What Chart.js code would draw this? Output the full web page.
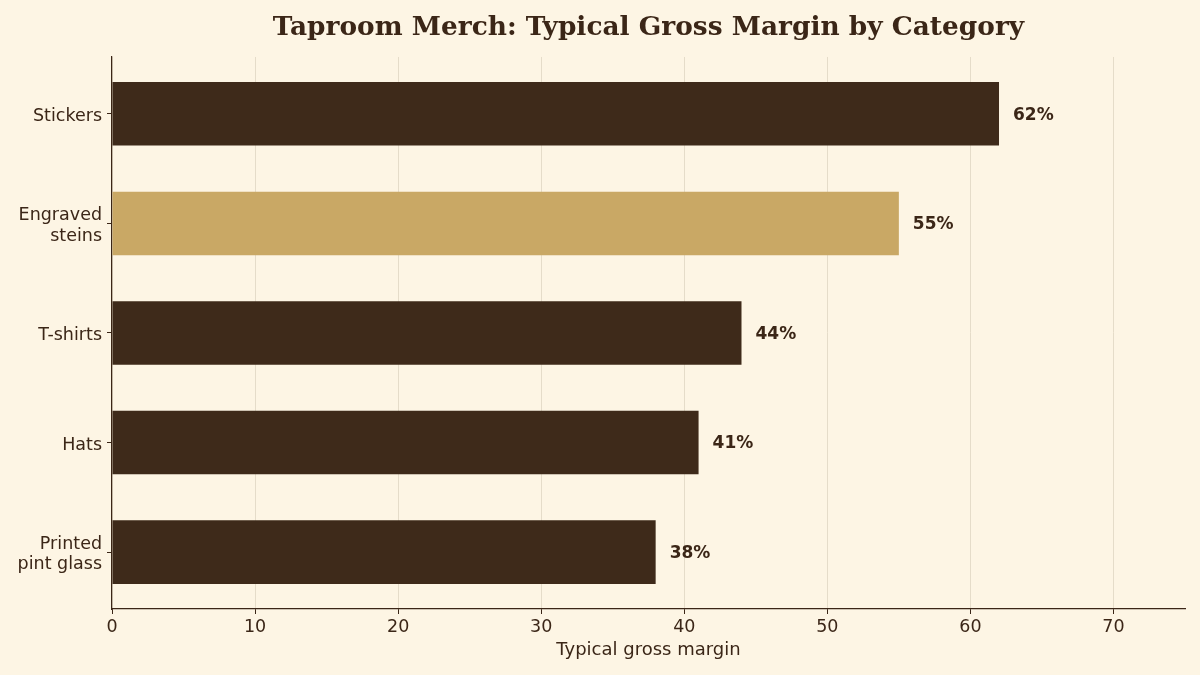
<!DOCTYPE html>
<html>
<head>
<meta charset="utf-8">
<script src="https://cdn.jsdelivr.net/npm/chart.js@4/dist/chart.umd.min.js"></script>
<style>
  html, body { margin: 0; padding: 0; background: #fdf5e4; }
  #wrap { width: 1200px; height: 675px; }
</style>
</head>
<body>
<div id="wrap"><canvas id="c" width="1200" height="675"></canvas></div>
<script>
const categories = [["Stickers"], ["Engraved", "steins"], ["T-shirts"], ["Hats"], ["Printed", "pint glass"]];
const margins = [62, 55, 44, 41, 38];
const highlightIndex = 1;
const xTicks = [0, 10, 20, 30, 40, 50, 60, 70];

const DARK = '#3e2a1a';
const GOLD = '#c9a865';
const TEXT = '#3b2617';
const GRID = '#e5dcc9';

const valueLabels = {
  id: 'valueLabels',
  afterDatasetsDraw(chart) {
    const ctx = chart.ctx;
    const meta = chart.getDatasetMeta(0);
    ctx.save();
    ctx.font = 'bold 17px "DejaVu Sans"';
    ctx.fillStyle = TEXT;
    ctx.textAlign = 'left';
    ctx.textBaseline = 'middle';
    meta.data.forEach((bar, i) => {
      ctx.fillText(margins[i] + '%', bar.x + 14, bar.y + 1.5);
    });
    ctx.restore();
  }
};

new Chart(document.getElementById('c'), {
  type: 'bar',
  data: {
    datasets: [{
      data: margins.map((v, i) => ({ x: v, y: i })),
      backgroundColor: margins.map((v, i) => i === highlightIndex ? GOLD : DARK),
      borderWidth: 0,
      categoryPercentage: 1.0,
      barPercentage: 0.58
    }]
  },
  options: {
    indexAxis: 'y',
    responsive: false,
    animation: false,
    devicePixelRatio: 1,
    layout: { padding: { left: 0, right: 15, top: 0, bottom: 0 } },
    plugins: {
      legend: { display: false },
      tooltip: { enabled: false },
      title: {
        display: true,
        fullSize: false,
        text: 'Taproom Merch: Typical Gross Margin by Category',
        color: TEXT,
        font: { family: '"DejaVu Serif"', size: 26.4, weight: 'bold', lineHeight: 1.2 },
        padding: { top: 12, bottom: 13.3 }
      }
    },
    scales: {
      x: {
        type: 'linear',
        min: 0,
        max: 75,
        afterFit(scale) { scale.height = 66; },
        afterBuildTicks(scale) { scale.ticks = xTicks.map(v => ({ value: v })); },
        grid: {
          display: true,
          drawOnChartArea: true,
          drawTicks: true,
          tickLength: 5,
          color: GRID,
          tickColor: TEXT,
          lineWidth: 1
        },
        border: { display: true, color: TEXT, width: 1.2 },
        ticks: {
          color: TEXT,
          font: { family: '"DejaVu Sans"', size: 17.5, lineHeight: 1.2 },
          padding: 3,
          autoSkip: false,
          maxRotation: 0
        },
        title: {
          display: true,
          text: 'Typical gross margin',
          color: TEXT,
          font: { family: '"DejaVu Sans"', size: 18, lineHeight: 1.2 },
          padding: { top: 0, bottom: 14 }
        }
      },
      y: {
        type: 'linear',
        reverse: true,
        offset: false,
        min: -0.519,
        max: 4.519,
        afterFit(scale) { scale.width = 112; },
        afterBuildTicks(scale) { scale.ticks = categories.map((c, i) => ({ value: i })); },
        grid: {
          display: true,
          offset: false,
          drawOnChartArea: false,
          drawTicks: true,
          tickLength: 5,
          tickColor: TEXT
        },
        border: { display: true, color: TEXT, width: 1.2 },
        ticks: {
          color: TEXT,
          font: { family: '"DejaVu Sans"', size: 17.5, lineHeight: 1.15 },
          padding: 5,
          labelOffset: 2.5,
          autoSkip: false,
          callback: (v) => categories[v]
        }
      }
    }
  },
  plugins: [valueLabels]
});
</script>
</body>
</html>
